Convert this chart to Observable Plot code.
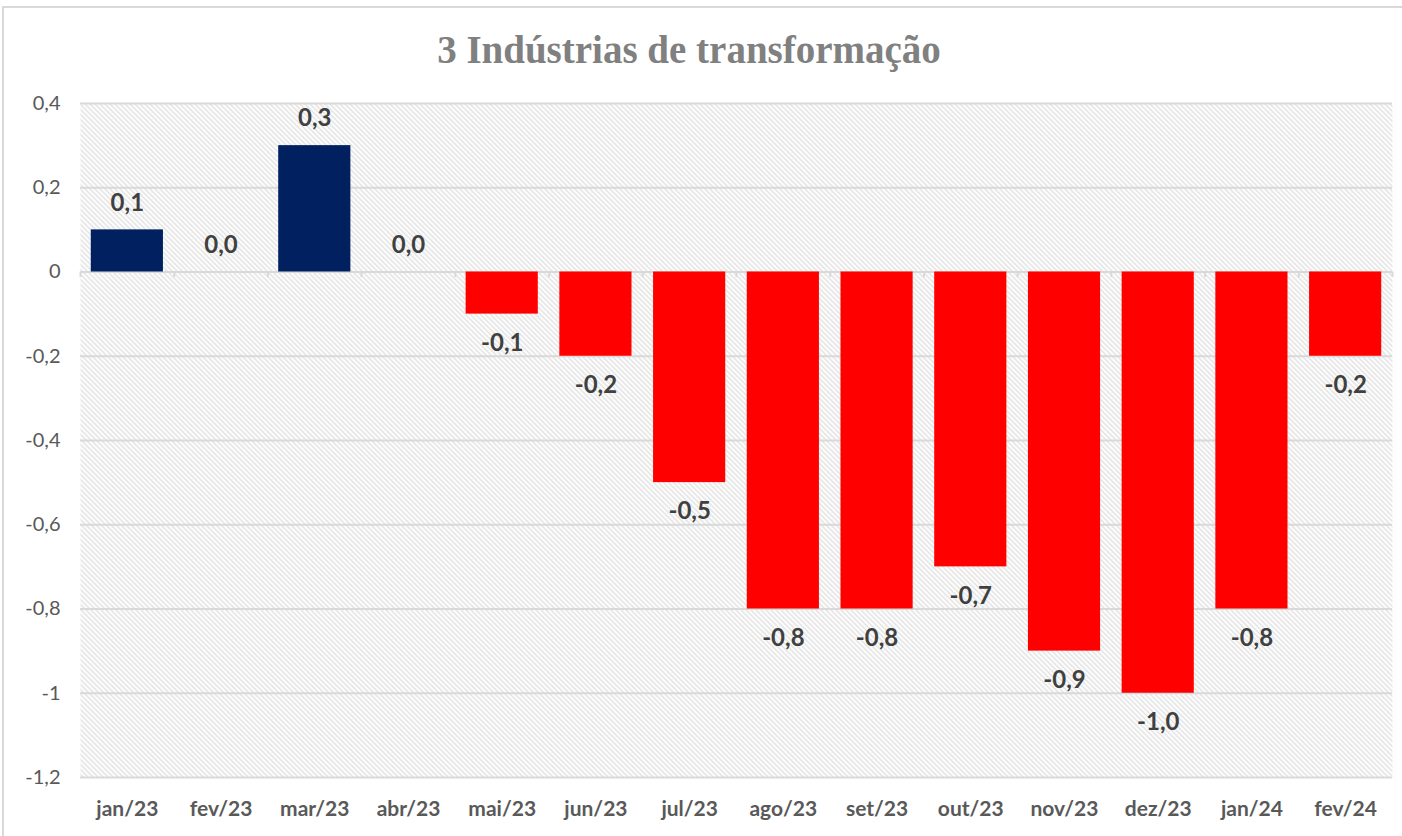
<!DOCTYPE html>
<html>
<head>
<meta charset="utf-8">
<script src="https://cdn.jsdelivr.net/npm/d3@7"></script>
<script src="https://cdn.jsdelivr.net/npm/@observablehq/plot@0.6"></script>
<style>
  html, body { margin: 0; padding: 0; background: #fff; overflow: hidden; }
  #frame { position: absolute; left: 2px; top: 6px; width: 1402px; height: 836px; border: 2px solid #d9d9d9; box-sizing: border-box; }
  #title { height: 80px; box-sizing: border-box; padding-top: 20px; padding-right: 28px; text-align: center;
           font-family: "Liberation Serif", serif; font-weight: bold; font-size: 39px; color: #808080; line-height: 44px; }
  #chart svg { display: block; }
</style>
</head>
<body>
<div id="frame">
  <div id="title">3 Indústrias de transformação</div>
  <div id="chart"></div>
</div>
<script>
const months = ["jan/23","fev/23","mar/23","abr/23","mai/23","jun/23","jul/23","ago/23","set/23","out/23","nov/23","dez/23","jan/24","fev/24"];
const values = [0.1, 0.0, 0.3, 0.0, -0.1, -0.2, -0.5, -0.8, -0.8, -0.7, -0.9, -1.0, -0.8, -0.2];
const yTicks = [0.4, 0.2, 0, -0.2, -0.4, -0.6, -0.8, -1, -1.2];

const data = months.map((m, i) => ({month: m, value: values[i]}));
const fmt1 = v => v.toFixed(1).replace(".", ",");
const fmtTick = v => { const r = Math.round(v * 10) / 10; return (r === 0 ? "0" : String(r)).replace(".", ","); };
const font = "Lato, 'Open Sans', sans-serif";

const W = 1398, ML = 76, MR = 10;
const step = (W - ML - MR) / months.length;

const chart = Plot.plot({
  width: W,
  height: 748,
  marginTop: 15,
  marginBottom: 59,
  marginLeft: ML,
  marginRight: MR,
  style: {fontFamily: font, background: "transparent", overflow: "visible"},
  x: {domain: months, paddingInner: 0.23, paddingOuter: 0.115, round: false, label: null},
  y: {domain: [-1.2, 0.4], label: null},
  marks: [
    Plot.frame({fill: "url(#hatch)", stroke: null}),
    Plot.gridY(yTicks, {stroke: "#d9d9d9", strokeWidth: 2, strokeOpacity: 1}),
    Plot.ruleX(months, {x: d => d, y1: 0, y2: -0.013, dx: -step / 2, stroke: "#d9d9d9", strokeWidth: 2}),
    Plot.ruleX(months.slice(-1), {x: d => d, y1: 0, y2: -0.013, dx: step / 2, stroke: "#d9d9d9", strokeWidth: 2}),
    Plot.barY(data, {x: "month", y: "value", fill: d => d.value >= 0 ? "#002060" : "#ff0000"}),
    Plot.text(data, {x: "month", y: "value", text: d => fmt1(d.value),
      fontSize: 24, fontWeight: "bold", fill: "#404040",
      filter: d => d.value >= 0, dy: -27}),
    Plot.text(data, {x: "month", y: "value", text: d => fmt1(d.value),
      fontSize: 24, fontWeight: "bold", fill: "#404040",
      filter: d => d.value < 0, dy: 29}),
    Plot.axisX({tickSize: 0, tickPadding: 24, fontSize: 21, fontWeight: "bold", fill: "#595959", label: null}),
    Plot.axisY(yTicks, {tickSize: 0, tickPadding: 20, fontSize: 20, fill: "#595959", tickFormat: fmtTick, label: null})
  ]
});

const svg = d3.select(chart);
const defs = svg.insert("defs", ":first-child");
const pat = defs.append("pattern").attr("id", "hatch").attr("patternUnits", "userSpaceOnUse")
  .attr("width", 5).attr("height", 5);
pat.append("rect").attr("width", 5).attr("height", 5).attr("fill", "#ffffff");
pat.append("path").attr("d", "M-1,-1 L6,6 M-1,4 L1,6 M4,-1 L6,1")
  .attr("stroke", "#d6d6d6").attr("stroke-width", 1.1);

document.getElementById("chart").appendChild(chart);
</script>
</body>
</html>
